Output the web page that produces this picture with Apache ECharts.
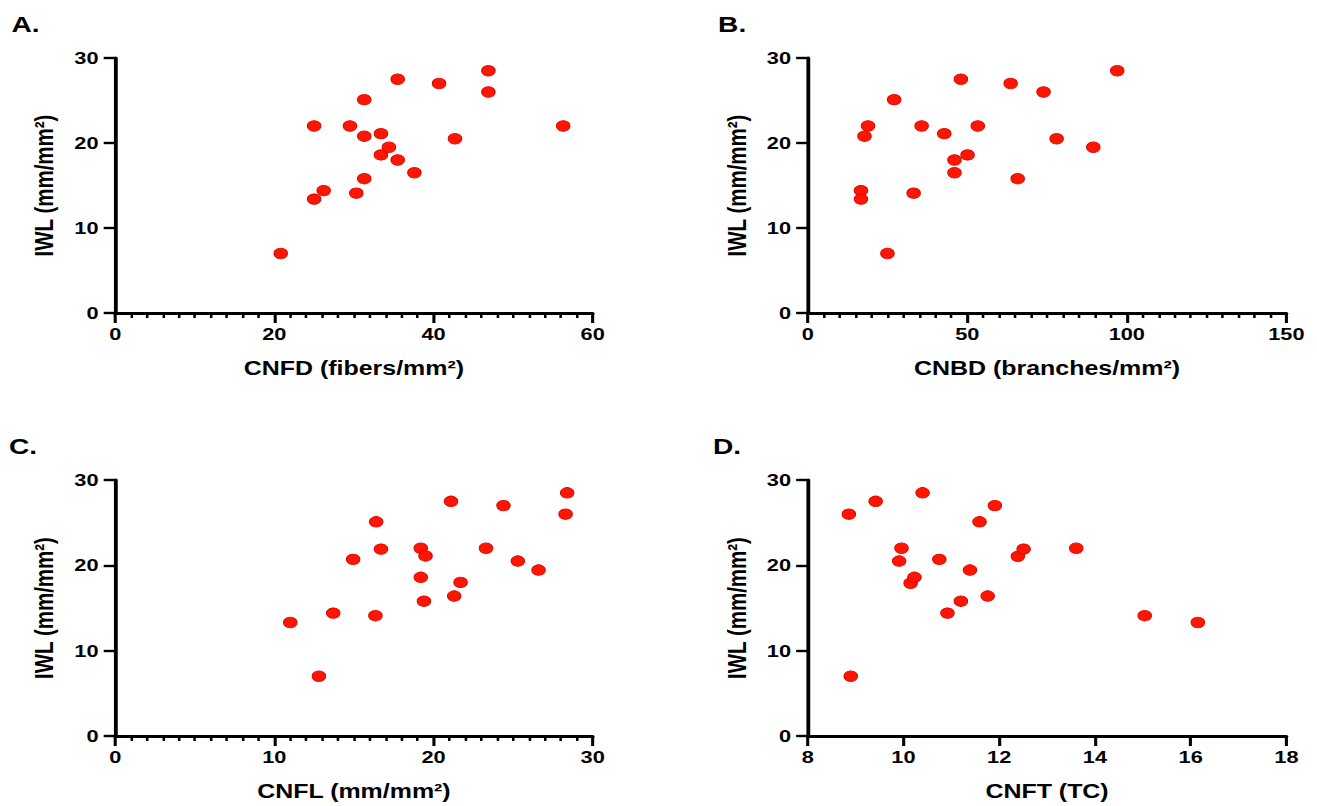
<!DOCTYPE html>
<html>
<head>
<meta charset="utf-8">
<script src="https://cdn.jsdelivr.net/npm/echarts@6/dist/echarts.min.js"></script>
<style>
  html, body { margin: 0; padding: 0; background: #fff; overflow: hidden; }
  #wrap { width: 1317px; height: 806px; overflow: hidden; }
  #chart { width: 1029px; height: 806px; transform: scaleX(1.28); transform-origin: 0 0; }
</style>
</head>
<body>
<div id="wrap"><div id="chart"></div></div>
<script>
// Panel A: CNFD vs IWL
const cnfd   = [20.8, 25.0, 25.0, 26.2, 29.5, 30.3, 31.3, 31.3, 31.3, 33.4, 33.4, 34.4, 35.5, 35.5, 37.6, 40.7, 42.7, 46.9, 46.9, 56.3];
const iwlA   = [7.0, 22.0, 13.4, 14.4, 22.0, 14.1, 25.1, 20.8, 15.8, 21.1, 18.6, 19.5, 27.5, 18.0, 16.5, 27.0, 20.5, 28.5, 26.0, 22.0];
// Panel B: CNBD vs IWL
const cnbd   = [16.7, 16.7, 17.8, 18.9, 25.0, 27.1, 33.2, 35.7, 42.8, 46.0, 46.0, 48.0, 50.1, 53.3, 63.6, 65.8, 73.9, 78.0, 89.5, 97.0];
const iwlB   = [14.4, 13.4, 20.8, 22.0, 7.0, 25.1, 14.1, 22.0, 21.1, 18.0, 16.5, 27.5, 18.6, 22.0, 27.0, 15.8, 26.0, 20.5, 19.5, 28.5];
// Panel C: CNFL vs IWL
const cnfl   = [11.0, 12.8, 13.7, 14.95, 16.35, 16.4, 16.7, 19.2, 19.2, 19.5, 19.4, 21.1, 21.3, 21.7, 23.3, 24.4, 25.3, 26.6, 28.3, 28.4];
const iwlC   = [13.3, 7.0, 14.4, 20.7, 14.1, 25.1, 21.9, 22.0, 18.6, 21.1, 15.8, 27.5, 16.4, 18.0, 22.0, 27.0, 20.5, 19.45, 26.0, 28.5];
// Panel D: CNFT vs IWL
const cnft   = [8.86, 8.90, 9.42, 9.91, 9.96, 10.15, 10.23, 10.40, 10.75, 10.92, 11.2, 11.39, 11.59, 11.76, 11.91, 12.39, 12.51, 13.61, 15.04, 16.15];
const iwlD   = [26.0, 7.0, 27.5, 20.5, 22.0, 17.9, 18.6, 28.5, 20.7, 14.4, 15.8, 19.45, 25.1, 16.4, 27.0, 21.05, 21.9, 22.0, 14.1, 13.3];

const panelLabels = ['A.', 'B.', 'C.', 'D.'];
const xNames = ['CNFD (fibers/mm²)', 'CNBD (branches/mm²)', 'CNFL (mm/mm²)', 'CNFT (TC)'];
const yName = 'IWL (mm/mm²)';
const xMin = [0, 0, 0, 8];
const xMax = [60, 150, 30, 18];
const xInterval = [20, 50, 10, 2];
const xMinor = [true, true, true, false];
const yMin = 0, yMax = 30, yInterval = 10;

const panels = [[cnfd, iwlA], [cnbd, iwlB], [cnfl, iwlC], [cnft, iwlD]];

const FONT = 'Liberation Sans, Arial, sans-serif';
const grids = [
  { left: 90, top: 58, width: 373, height: 255 },
  { left: 631, top: 58, width: 374, height: 255 },
  { left: 90, top: 480, width: 373, height: 256 },
  { left: 631, top: 480, width: 374, height: 256 }
];
const labelPos = [
  { left: 9, top: 13 },
  { left: 561, top: 13 },
  { left: 7, top: 435 },
  { left: 557, top: 435 }
];

const axisLineStyle = { color: '#000', width: 3 };

const option = {
  backgroundColor: '#fff',
  animation: false,
  title: panelLabels.map((t, i) => ({
    text: t, left: labelPos[i].left, top: labelPos[i].top, padding: 0,
    textStyle: { fontFamily: FONT, fontWeight: 'bold', fontSize: 22, color: '#000' }
  })),
  grid: grids.map(g => Object.assign({ containLabel: false }, g)),
  xAxis: panels.map((p, i) => ({
    type: 'value', gridIndex: i,
    min: xMin[i], max: xMax[i], interval: xInterval[i],
    name: xNames[i], nameLocation: 'middle', nameGap: 45,
    nameTextStyle: { fontFamily: FONT, fontWeight: 'bold', fontSize: 19.5, color: '#000' },
    axisLine: { show: true, onZero: false, lineStyle: axisLineStyle },
    axisTick: { show: true, inside: false, length: 10, lineStyle: { color: '#000', width: 2.4 } },
    minorTick: { show: xMinor[i], splitNumber: 10, length: 5, lineStyle: { color: '#000', width: 2 } },
    axisLabel: { fontFamily: FONT, fontWeight: 'bold', fontSize: 17, color: '#000', margin: 12 },
    splitLine: { show: false },
    minorSplitLine: { show: false }
  })),
  yAxis: panels.map((p, i) => ({
    type: 'value', gridIndex: i,
    min: yMin, max: yMax, interval: yInterval,
    name: yName, nameLocation: 'middle', nameGap: 45,
    nameTextStyle: { fontFamily: FONT, fontWeight: 'bold', fontSize: 20.5, color: '#000' },
    axisLine: { show: true, onZero: false, lineStyle: axisLineStyle },
    axisTick: { show: true, inside: false, length: 9, lineStyle: { color: '#000', width: 2.4 } },
    axisLabel: { fontFamily: FONT, fontWeight: 'bold', fontSize: 17, color: '#000', margin: 13 },
    splitLine: { show: false }
  })),
  series: panels.map((p, i) => ({
    type: 'scatter', xAxisIndex: i, yAxisIndex: i,
    data: p[0].map((x, k) => [x, p[1][k]]),
    symbol: 'circle', symbolSize: 10.5,
    itemStyle: { color: '#ff1500', borderColor: '#e00000', borderWidth: 0.8, opacity: 1 },
    clip: false
  }))
};

const chart = echarts.init(document.getElementById('chart'), null, { renderer: 'svg' });
chart.setOption(option);
</script>
</body>
</html>
